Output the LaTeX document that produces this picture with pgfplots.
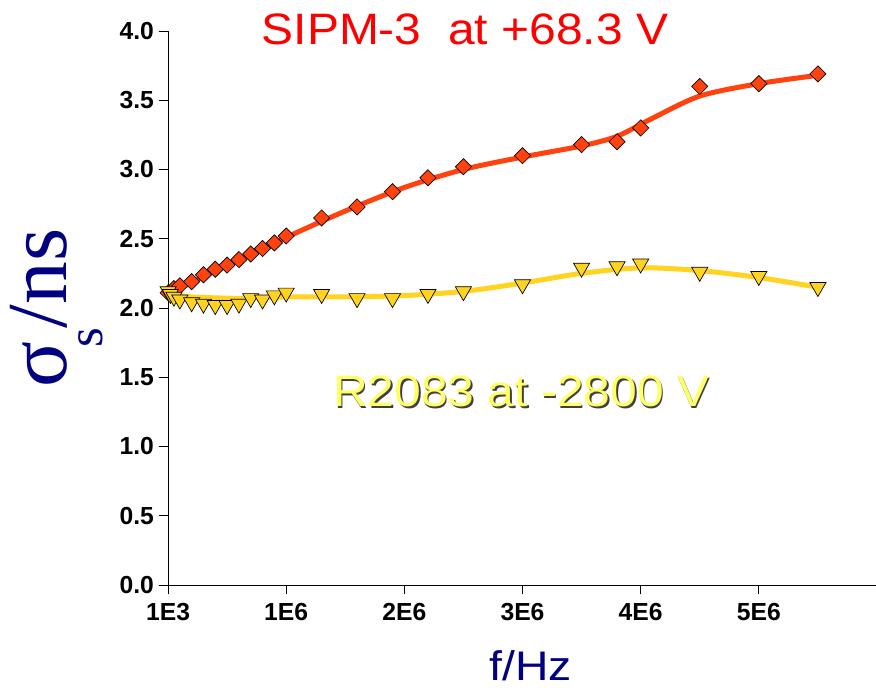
\documentclass[border=0pt]{standalone}
\usepackage{pgfplots}
\pgfplotsset{compat=1.18}
\usepackage{fontspec}
\setmainfont{Liberation Sans}
\newfontfamily\seriffont{Liberation Serif}
\definecolor{sipm}{HTML}{FF420E}
\definecolor{pmt}{HTML}{FFD320}
\definecolor{navy}{HTML}{000080}
\definecolor{lightyel}{HTML}{FFFF66}
\begin{document}
\begin{tikzpicture}
\begin{axis}[
 at={(0,0)}, anchor=south west,
 width=531.75pt, height=415.5pt, scale only axis,
 xmin=0, xmax=6e6, ymin=0, ymax=4,
 axis lines=left, axis line style={-, black, line width=0.6pt},
 tick align=outside, major tick length=7pt, tick style={black, line width=0.6pt},
 xtick={1000,1e6,2e6,3e6,4e6,5e6},
 xticklabels={1E3,1E6,2E6,3E6,4E6,5E6},
 ytick={0,0.5,1,1.5,2,2.5,3,3.5,4},
 yticklabel style={/pgf/number format/.cd, fixed, fixed zerofill, precision=1},
 /pgf/number format/assume math mode=true,
 ticklabel style={font=\fontsize{18.5}{18.5}\selectfont\bfseries},
 xticklabel style={yshift=-3pt},
 scaled x ticks=false,
 clip=false,
]
% fitted curves
\addplot[sipm, line width=3.75pt, smooth, tension=0.5, mark=none] coordinates {
(0,2.10) (0.5e6,2.31) (1e6,2.51) (1.5e6,2.70) (2e6,2.87) (2.5e6,3.00) (3e6,3.09) (3.5e6,3.17) (3.8e6,3.24) (4.1e6,3.37) (4.5e6,3.53) (5e6,3.62) (5.5e6,3.68)};
\addplot[pmt, line width=3.75pt, smooth, tension=0.5, mark=none] coordinates {
(0,2.10) (0.2e6,2.08) (0.6e6,2.07) (1e6,2.08) (1.5e6,2.08) (2e6,2.09) (2.5e6,2.12) (3e6,2.18) (3.5e6,2.25) (4e6,2.29) (4.5e6,2.27) (5e6,2.22) (5.5e6,2.15)};
% SiPM data
\addplot[only marks, mark=square*, mark size=4.3pt, mark options={rotate=45, fill=sipm, draw=black, line width=0.5pt}] coordinates {
(1e3,2.11) (5e4,2.14) (1e5,2.16) (2e5,2.19) (3e5,2.24) (4e5,2.28) (5e5,2.31) (6e5,2.35) (7e5,2.39) (8e5,2.43) (9e5,2.47) (1e6,2.52)
(1.3e6,2.65) (1.6e6,2.73) (1.9e6,2.84) (2.2e6,2.94) (2.5e6,3.02) (3e6,3.10) (3.5e6,3.18) (3.8e6,3.20) (4e6,3.30) (4.5e6,3.60) (5e6,3.62) (5.5e6,3.69)};
% R2083 data
\addplot[only marks, mark=triangle*, mark size=7pt, mark options={rotate=180, fill=pmt, draw=black, line width=0.5pt}] coordinates {
(1e3,2.12) (2e4,2.10) (5e4,2.08) (1e5,2.06) (2e5,2.04) (3e5,2.03) (4e5,2.02) (5e5,2.02) (6e5,2.03) (7e5,2.07) (8e5,2.06) (9e5,2.09) (1e6,2.11)
(1.3e6,2.10) (1.6e6,2.07) (1.9e6,2.07) (2.2e6,2.10) (2.5e6,2.12) (3e6,2.17) (3.5e6,2.29) (3.8e6,2.30) (4e6,2.32) (4.5e6,2.26) (5e6,2.23) (5.5e6,2.15)};
\end{axis}
% titles and labels
\node[anchor=base, text=red, inner sep=0pt] at (222.75pt,405pt) {\scalebox{1.09}[1]{\fontsize{33}{33}\selectfont SIPM-3\ \ at +68.3 V}};
\node[anchor=base, text=black!75, inner sep=0pt] at (266.2pt,132.3pt) {\scalebox{1.09}[1]{\fontsize{33}{33}\selectfont R2083 at -2800 V}};
\node[anchor=base, text=lightyel, inner sep=0pt] at (265pt,133.5pt) {\scalebox{1.09}[1]{\fontsize{33}{33}\selectfont R2083 at -2800 V}};
\node[anchor=base, text=navy, inner sep=0pt] at (272pt,-71.5pt) {\scalebox{1.12}[1]{\fontsize{31}{31}\selectfont f/Hz}};
\node[anchor=base, rotate=90, text=navy, inner sep=0pt] at (-75.75pt,207.75pt) {\seriffont\fontsize{64}{64}\selectfont σ\kern-5pt\raisebox{-27pt}{\fontsize{38}{38}\selectfont s}/ns};
\pgfresetboundingbox
\path[use as bounding box] (-126pt,-78.75pt) rectangle (531pt,438.75pt);
\end{tikzpicture}
\end{document}
